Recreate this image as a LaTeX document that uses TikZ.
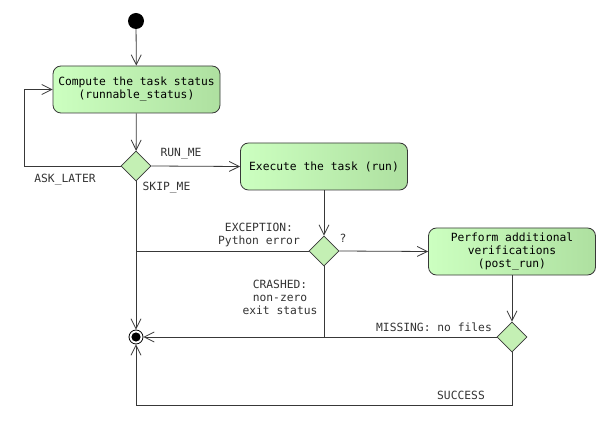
\documentclass[tikz,border=0pt]{standalone}
\usepackage{fontspec}
\setmainfont{DejaVu Sans Mono}
\usetikzlibrary{arrows.meta,shapes.geometric}
\definecolor{edge}{HTML}{383838}
\definecolor{actl}{HTML}{CCFFC0}
\definecolor{actr}{HTML}{AEE0A0}
\definecolor{decfill}{HTML}{C4F0B4}
\tikzset{
  x=1pt, y=-1pt,
  every node/.style={font=\fontsize{11.3}{13}\selectfont},
  action/.style={draw=edge, line width=0.8pt, rounded corners=8pt,
    left color=actl, right color=actr, minimum width=167pt, minimum height=47pt,
    align=center, inner sep=2pt},
  decision/.style={diamond, draw=edge, line width=0.6pt, fill=decfill,
    minimum width=30pt, minimum height=30pt, inner sep=0pt},
  flow/.style={draw=edge, line width=0.8pt},
  arr/.style={flow, -{Straight Barb[length=10pt,width=10pt,line width=0.8pt]}},
  lbl/.style={text=black!80, align=center, inner sep=0pt}
}
\begin{document}
\begin{tikzpicture}
\useasboundingbox (0,0) rectangle (610,430);
\fill[white] (0,0) rectangle (610,430);

% states
\node[circle, fill=black, minimum size=16pt, inner sep=0pt] (start) at (136,21) {};
\node[action] (status) at (136.5,89.5) {Compute the task status\\(runnable\_status)};
\node[decision] (d1) at (136,166) {};
\node[action] (run) at (324,166.5) {Execute the task (run)};
\node[decision] (d2) at (324,251) {};
\node[action] (post) at (512,251.5) {Perform additional\\verifications\\(post\_run)};
\node[decision] (d3) at (512,337) {};
\node[circle, draw=black, line width=0.8pt, minimum size=14pt, inner sep=0pt] (stop) at (136,337) {};
\fill[black] (stop.center) circle (4.6pt);

% transitions
\draw[arr] (start) -- (status);
\draw[arr] (status) -- (d1);
\draw[arr] (d1.west) -- ++(-96,0) |- (status.west);
\draw[arr] (d1.east) -- (run.west);
\draw[arr] (d1.south) -- (stop.north);
\draw[arr] (run) -- (d2);
\draw[flow] (d2.west) -- (d1.south |- d2.west);
\draw[arr] (d2.east) -- (post.west);
\draw[arr] (d2.south) |- (stop.east);
\draw[flow] (d3.west) -- (d2.south |- d3.west);
\draw[arr] (post) -- (d3);
\draw[arr] (d3.south) -- ++(0,53) -| (stop.south);

% guards
\node[lbl] (askl) at (65,180) {ASK\_LATER};
\node[lbl] (runme) at (181,154) {RUN\_ME};
\node[lbl] (skipme) at (166.5,188) {SKIP\_ME};
\node[lbl] (unk) at (343,238) {?};
\node[lbl] (exc) at (259,234.5) {EXCEPTION:\\Python error};
\node[lbl] (crash) at (280,297.5) {CRASHED:\\non-zero\\exit status};
\node[lbl] (miss) at (434,327) {MISSING: no files};
\node[lbl] (succ) at (461,395) {SUCCESS};
\end{tikzpicture}
\end{document}
